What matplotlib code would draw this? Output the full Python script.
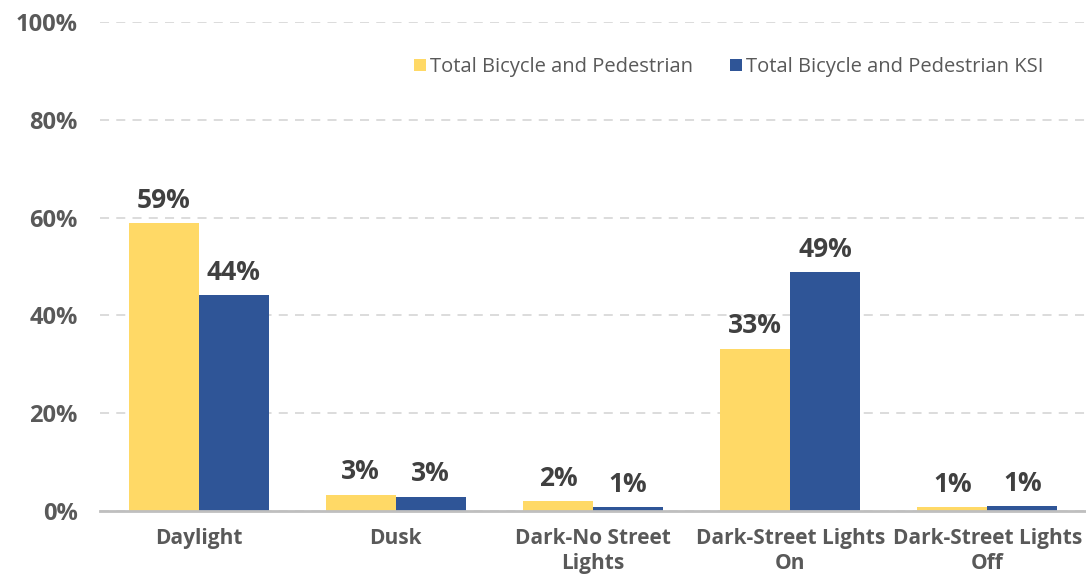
import matplotlib
matplotlib.use('Agg')
import matplotlib.pyplot as plt
import numpy as np

#----データ----
categories = ['Daylight', 'Dusk', 'Dark-No Street\nLights', 'Dark-Street Lights\nOn', 'Dark-Street Lights\nOff']
total_vals = [58.8, 3.3, 2.0, 33.1, 0.8]   # Total Bicycle and Pedestrian
ksi_vals = [44.1, 2.9, 0.8, 48.8, 1.0]     # Total Bicycle and Pedestrian KSI
total_labels = ['59%', '3%', '2%', '33%', '1%']
ksi_labels = ['44%', '3%', '1%', '49%', '1%']
yticks = [0, 20, 40, 60, 80, 100]
series_names = ['Total Bicycle and Pedestrian', 'Total Bicycle and Pedestrian KSI']

plt.rcParams['font.family'] = ['Open Sans', 'DejaVu Sans']

fig = plt.figure(figsize=(10.86, 5.75), dpi=100)
ax = fig.add_axes([0.092, 0.111, 0.908, 0.851])

x = np.arange(len(categories))
w = 0.355
b1 = ax.bar(x - w / 2, total_vals, w, color='#FFD966', label=series_names[0], zorder=3)
b2 = ax.bar(x + w / 2, ksi_vals, w, color='#2F5597', label=series_names[1], zorder=3)

#----データラベル----
for bars, labs in [(b1, total_labels), (b2, ksi_labels)]:
    for r, t in zip(bars, labs):
        ax.annotate(t, (r.get_x() + r.get_width() / 2, r.get_height()),
                    xytext=(0, 7), textcoords='offset points', ha='center', va='bottom',
                    fontsize=19, fontweight='bold', color='#404040')

ax.set_xlim(-0.5, len(categories) - 0.5)
ax.set_ylim(0, 100)
ax.set_yticks(yticks)
ax.set_yticklabels([f'{v}%' for v in yticks], fontsize=17, fontweight='bold', color='#595959')
ax.set_xticks(x)
ax.set_xticklabels(categories, fontsize=15, fontweight='bold', color='#595959', linespacing=1.25)
ax.tick_params(axis='both', length=0)
ax.tick_params(axis='y', pad=16)
ax.tick_params(axis='x', pad=12)

ax.grid(axis='y', color='#D9D9D9', linestyle=(0, (5, 4)), linewidth=1.3, zorder=0)
ax.set_axisbelow(True)
for s in ['top', 'right', 'left']:
    ax.spines[s].set_visible(False)
ax.spines['bottom'].set_color('#BFBFBF')
ax.spines['bottom'].set_linewidth(2)
ax.spines['bottom'].set_zorder(4)

leg = ax.legend(loc='upper right', bbox_to_anchor=(0.975, 0.965), ncol=2, frameon=False,
                fontsize=14.5, handlelength=0.6, handleheight=0.6, handletextpad=0.2,
                columnspacing=1.8, labelcolor='#595959')

fig.savefig('out.png', dpi=100)
